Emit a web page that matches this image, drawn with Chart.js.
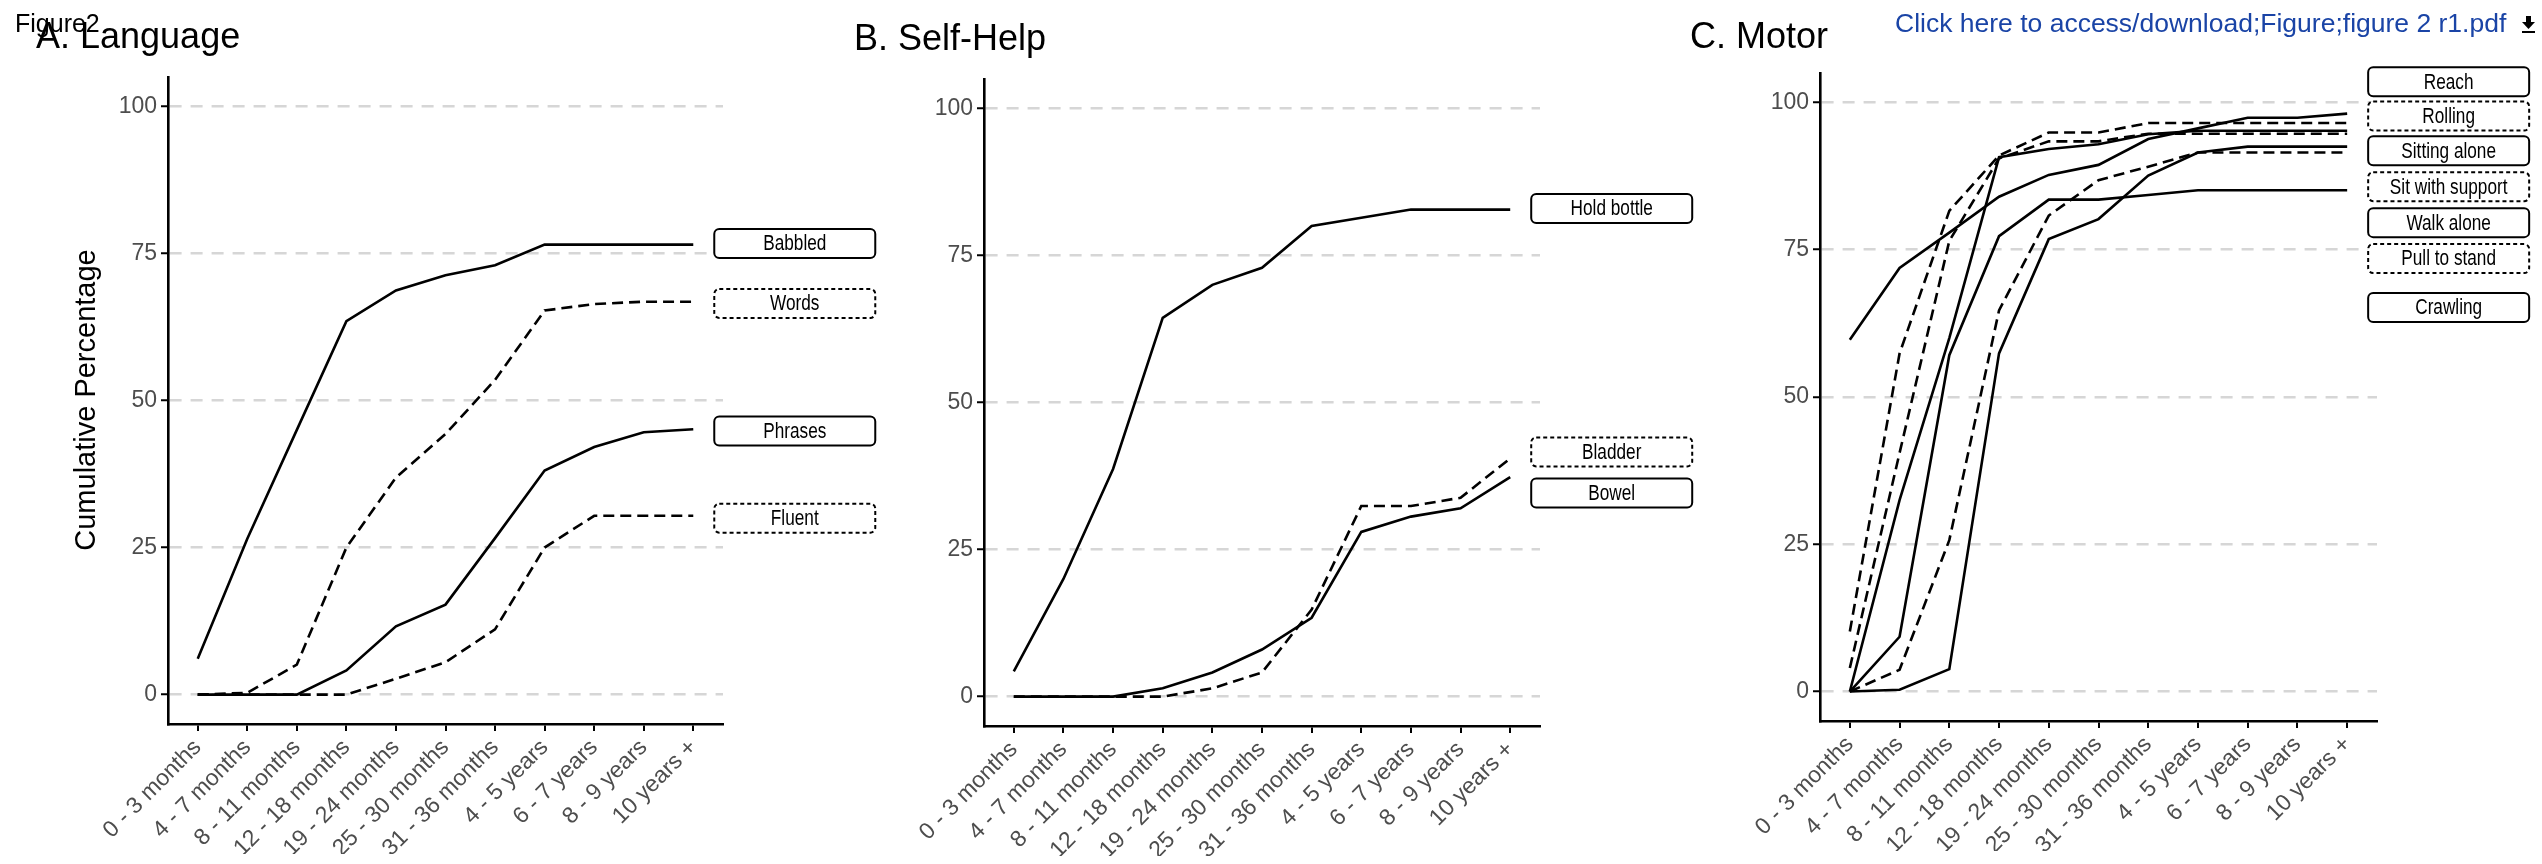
<!DOCTYPE html>
<html><head><meta charset="utf-8">
<script src="https://cdn.jsdelivr.net/npm/chart.js@4/dist/chart.umd.min.js"></script>
<style>
html,body{margin:0;padding:0;background:#fff;width:2542px;height:864px;overflow:hidden}
canvas{position:absolute;left:0;top:0}
</style></head><body>
<canvas id="cA" width="2542" height="864"></canvas>
<canvas id="cB" width="2542" height="864"></canvas>
<canvas id="cC" width="2542" height="864"></canvas>
<script>
// ---- data ----
const categories = ['0 - 3 months','4 - 7 months','8 - 11 months','12 - 18 months','19 - 24 months','25 - 30 months','31 - 36 months','4 - 5 years','6 - 7 years','8 - 9 years','10 years +'];
const yTicks = [0, 25, 50, 75, 100];

// A. Language
const babbled = [6.1, 26.5, 45.0, 63.5, 68.7, 71.3, 73.0, 76.5, 76.5, 76.5, 76.5];
const words   = [0, 0.3, 5.1, 25.0, 36.9, 44.3, 53.5, 65.3, 66.4, 66.8, 66.8];
const phrases = [0, 0, 0, 4.1, 11.6, 15.3, 26.6, 38.1, 42.1, 44.6, 45.1];
const fluent  = [0, 0, 0, 0, 2.7, 5.5, 11.1, 25.0, 30.4, 30.4, 30.4];
const langNames = ['Babbled', 'Words', 'Phrases', 'Fluent'];
const langLabelY = [76.7, 66.5, 44.8, 30.0];

// B. Self-Help
const holdBottle = [4.3, 20.0, 38.7, 64.4, 70.0, 72.9, 80.0, 81.4, 82.8, 82.8, 82.8];
const bladder    = [0, 0, 0, 0, 1.4, 4.1, 14.8, 32.4, 32.4, 33.8, 40.5];
const bowel      = [0, 0, 0, 1.4, 4.1, 8.0, 13.4, 28.0, 30.6, 32.0, 37.3];
const selfNames = ['Hold bottle', 'Bladder', 'Bowel'];
const selfLabelY = [83.0, 41.6, 34.6];

// C. Motor
const reach          = [59.7, 71.9, 77.9, 84.0, 87.7, 89.4, 93.8, 95.6, 97.4, 97.4, 98.1];
const rolling        = [10.2, 57.4, 81.6, 91.0, 94.9, 94.9, 96.5, 96.5, 96.5, 96.5, 96.5];
const sittingAlone   = [0, 32.5, 60.0, 90.7, 92.1, 92.9, 94.6, 95.2, 95.2, 95.2, 95.2];
const sitWithSupport = [4.0, 40.5, 76.5, 90.5, 93.4, 93.4, 94.7, 94.7, 94.7, 94.7, 94.7];
const walkAlone      = [0, 0.3, 3.8, 57.4, 76.8, 80.2, 87.6, 91.5, 92.5, 92.5, 92.5];
const pullToStand    = [0, 3.7, 25.7, 64.7, 80.8, 86.8, 89.1, 91.5, 91.5, 91.5, 91.5];
const crawling       = [0, 9.3, 57.1, 77.3, 83.5, 83.5, 84.3, 85.1, 85.1, 85.1, 85.1];
const motorNames = ['Reach', 'Rolling', 'Sitting alone', 'Sit with support', 'Walk alone', 'Pull to stand', 'Crawling'];
const motorLabelY = [103.5, 97.7, 91.8, 85.7, 79.6, 73.5, 65.2];

// ---- styling ----
const FONT = '"Liberation Sans", Arial, Helvetica, sans-serif';
Chart.defaults.font.family = FONT;
const W = 2542, H = 864, YAXW = 60, XAXH = 130;
const LINE_DASH = [11, 6];

function series(values, dashed) {
  return {
    data: values.map((v, i) => ({x: i, y: v})),
    borderColor: '#000', borderWidth: 2.6, borderDash: dashed ? LINE_DASH : [],
    pointRadius: 0, tension: 0, fill: false, clip: false
  };
}

function makeChart(id, datasets, names, labelY, dashedFlags, area, extraDraw) {
  const labelPlugin = {
    id: 'labels_' + id,
    afterDraw(chart) {
      const ctx = chart.ctx;
      const xs = chart.scales.x, ys = chart.scales.y;
      const left = xs.getPixelForValue(categories.length - 1) + 21;
      const bw = 161, bh = 29;
      names.forEach((n, i) => {
        const cy = ys.getPixelForValue(labelY[i]);
        ctx.save();
        ctx.lineWidth = 2;
        ctx.strokeStyle = '#000';
        ctx.fillStyle = '#fff';
        ctx.setLineDash(dashedFlags[i] ? [4, 3] : []);
        ctx.beginPath();
        ctx.roundRect(left, cy - bh / 2, bw, bh, 5);
        ctx.fill();
        ctx.stroke();
        ctx.setLineDash([]);
        ctx.fillStyle = '#000';
        ctx.font = '21.5px ' + FONT;
        ctx.textAlign = 'center';
        ctx.textBaseline = 'middle';
        ctx.translate(left + bw / 2, cy + 1);
        ctx.scale(0.8, 1);
        ctx.fillText(n, 0, 0);
        ctx.restore();
      });
      if (extraDraw) extraDraw(ctx, chart);
    }
  };
  return new Chart(document.getElementById(id), {
    type: 'line',
    data: {datasets},
    options: {
      responsive: false, animation: false, events: [],
      layout: {padding: {left: area.left - YAXW, right: W - area.right, top: area.top, bottom: H - area.bottom - XAXH}},
      plugins: {legend: {display: false}, tooltip: {enabled: false}},
      scales: {
        x: {
          type: 'linear', min: -0.6, max: 10.6,
          afterBuildTicks: s => { s.ticks = categories.map((c, i) => ({value: i})); },
          afterFit: s => { s.height = XAXH; },
          ticks: {autoSkip: false, minRotation: 45, maxRotation: 45, callback: v => categories[v],
                  color: '#4d4d4d', font: {size: 23, family: FONT}, padding: 3},
          grid: {drawOnChartArea: false, drawTicks: true, tickLength: 7, tickColor: '#000', tickWidth: 2, color: '#000', lineWidth: 2},
          border: {display: true, color: '#000', width: 2.6}
        },
        y: {
          type: 'linear', min: -5, max: 105,
          afterBuildTicks: s => { s.ticks = yTicks.map(v => ({value: v})); },
          afterFit: s => { s.width = YAXW; },
          ticks: {color: '#4d4d4d', font: {size: 23, family: FONT}, padding: 4},
          grid: {drawOnChartArea: true, color: '#d6d6d6', lineWidth: 2.5, tickLength: 7, tickColor: '#000', tickWidth: 2},
          border: {display: true, color: '#000', width: 2.6, dash: [12, 9]}
        }
      }
    },
    plugins: [labelPlugin]
  });
}

function title(ctx, text, x, y) {
  ctx.save();
  ctx.fillStyle = '#000';
  ctx.font = '36px ' + FONT;
  ctx.textBaseline = 'alphabetic';
  ctx.textAlign = 'left';
  ctx.fillText(text, x, y);
  ctx.restore();
}

makeChart('cA',
  [series(babbled, false), series(words, true), series(phrases, false), series(fluent, true)],
  langNames, langLabelY, [false, true, false, true],
  {left: 168, right: 723, top: 77, bottom: 724},
  (ctx) => {
    title(ctx, 'A. Language', 36, 48);
    ctx.save();
    ctx.fillStyle = '#000';
    ctx.font = '25px ' + FONT;
    ctx.fillText('Figure2', 15, 32);
    ctx.translate(87, 400);
    ctx.rotate(-Math.PI / 2);
    ctx.font = '29px ' + FONT;
    ctx.textAlign = 'center';
    ctx.textBaseline = 'middle';
    ctx.fillText('Cumulative Percentage', 0, 0);
    ctx.restore();
  });

makeChart('cB',
  [series(holdBottle, false), series(bladder, true), series(bowel, false)],
  selfNames, selfLabelY, [false, true, false],
  {left: 984, right: 1540, top: 79, bottom: 726},
  (ctx) => { title(ctx, 'B. Self-Help', 854, 50); });

makeChart('cC',
  [series(reach, false), series(rolling, true), series(sittingAlone, false), series(sitWithSupport, true),
   series(walkAlone, false), series(pullToStand, true), series(crawling, false)],
  motorNames, motorLabelY, [false, true, false, true, false, true, false],
  {left: 1820, right: 2377, top: 73, bottom: 721},
  (ctx) => {
    title(ctx, 'C. Motor', 1690, 48);
    ctx.save();
    ctx.fillStyle = '#1a44a6';
    ctx.font = '26.5px ' + FONT;
    ctx.textBaseline = 'alphabetic';
    ctx.fillText('Click here to access/download;Figure;figure 2 r1.pdf', 1895, 32);
    // download icon
    ctx.fillStyle = '#000';
    ctx.fillRect(2526, 16, 5, 7);
    ctx.beginPath();
    ctx.moveTo(2522, 22); ctx.lineTo(2535, 22); ctx.lineTo(2528.5, 29); ctx.closePath();
    ctx.fill();
    ctx.fillRect(2522, 31, 13, 2);
    ctx.restore();
  });
</script></body></html>
